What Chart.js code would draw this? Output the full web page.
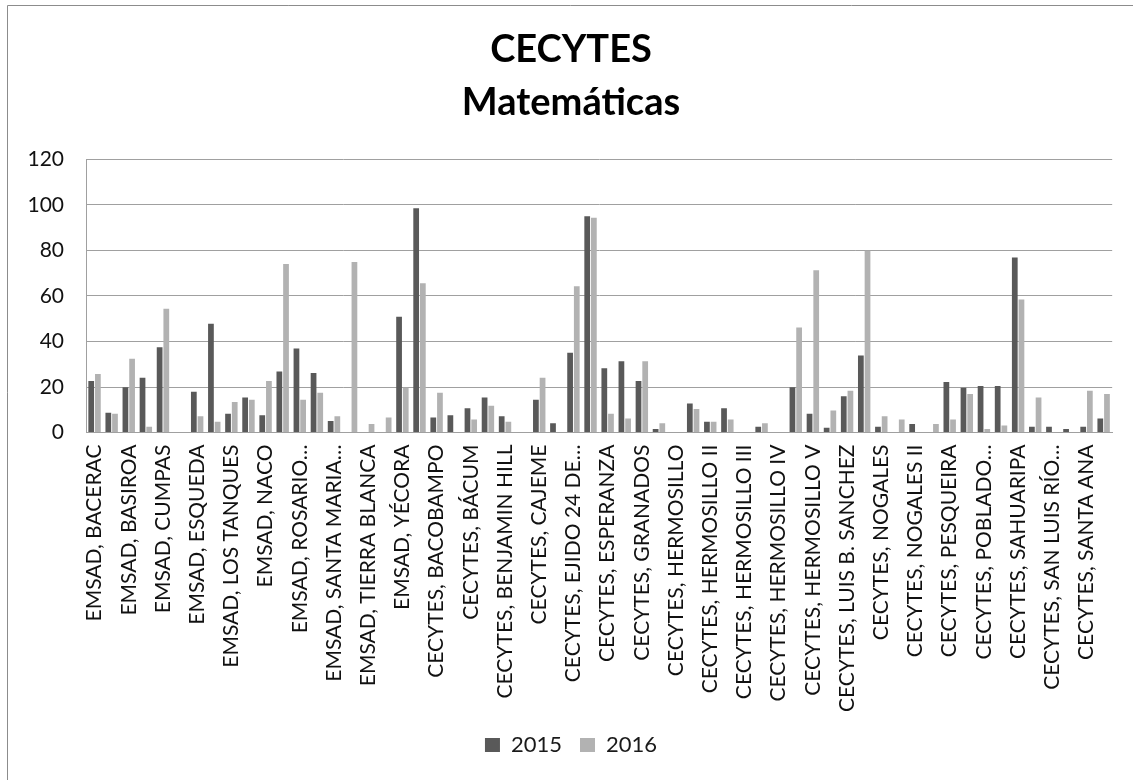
<!DOCTYPE html>
<html>
<head>
<meta charset="utf-8">
<script src="https://cdn.jsdelivr.net/npm/chart.js@4/dist/chart.umd.min.js"></script>
<style>
  body { margin: 0; background: #fff; }
  #wrap { width: 1133px; height: 780px; position: relative; }
</style>
</head>
<body>
<div id="wrap"><canvas id="myChart" width="1133" height="780"></canvas></div>
<script>
// school names (every other one is shown on the axis, like the Excel original)
let categories = [
  'EMSAD, BACERAC', 'EMSAD, BANÁMICHI',
  'EMSAD, BASIROA', 'EMSAD, CUCURPE',
  'EMSAD, CUMPAS', 'EMSAD, DIVISADEROS',
  'EMSAD, ESQUEDA', 'EMSAD, HUACHINERA',
  'EMSAD, LOS TANQUES', 'EMSAD, MAZATÁN',
  'EMSAD, NACO', 'EMSAD, ONAVAS',
  'EMSAD, ROSARIO…', 'EMSAD, SAN PEDRO…',
  'EMSAD, SANTA MARIA…', 'EMSAD, TEPACHE',
  'EMSAD, TIERRA BLANCA', 'EMSAD, VILLA HIDALGO',
  'EMSAD, YÉCORA', 'CECYTES, ÁLAMOS',
  'CECYTES, BACOBAMPO', 'CECYTES, BACOACHI',
  'CECYTES, BÁCUM', 'CECYTES, BAHÍA DE KINO',
  'CECYTES, BENJAMIN HILL', 'CECYTES, CABORCA',
  'CECYTES, CAJEME', 'CECYTES, CUMURIPA',
  'CECYTES, EJIDO 24 DE…', 'CECYTES, EMPALME',
  'CECYTES, ESPERANZA', 'CECYTES, FUNDICIÓN',
  'CECYTES, GRANADOS', 'CECYTES, GUAYMAS',
  'CECYTES, HERMOSILLO', 'CECYTES, HERMOSILLO I',
  'CECYTES, HERMOSILLO II', 'CECYTES, HERMOSILLO II-B',
  'CECYTES, HERMOSILLO III', 'CECYTES, HERMOSILLO III-B',
  'CECYTES, HERMOSILLO IV', 'CECYTES, HERMOSILLO IV-B',
  'CECYTES, HERMOSILLO V', 'CECYTES, HUATABAMPO',
  'CECYTES, LUIS B. SANCHEZ', 'CECYTES, MAGDALENA',
  'CECYTES, NOGALES', 'CECYTES, NAVOJOA',
  'CECYTES, NOGALES II', 'CECYTES, PÓTAM',
  'CECYTES, PESQUEIRA', 'CECYTES, PITIQUITO',
  'CECYTES, POBLADO…', 'CECYTES, PUERTO PEÑASCO',
  'CECYTES, SAHUARIPA', 'CECYTES, SAN IGNACIO…',
  'CECYTES, SAN LUIS RÍO…', 'CECYTES, SAN PEDRO…',
  'CECYTES, SANTA ANA', 'CECYTES, SONOYTA'
];

let y2015 = [
  22.6, 8.7, 19.9, 24.1, 37.5, 0, 17.9, 47.8, 8.2, 15.4,
  7.6, 26.8, 36.9, 26.2, 5.1, 0, 0, 0, 50.9, 98.5,
  6.6, 7.6, 10.7, 15.4, 7.2, 0, 14.4, 4.1, 35.0, 95.0,
  28.2, 31.3, 22.6, 1.5, 0, 12.8, 4.7, 10.7, 0, 2.5,
  0, 19.9, 8.2, 2.1, 15.9, 33.8, 2.5, 0, 3.7, 0,
  22.2, 19.7, 20.4, 20.4, 76.9, 2.5, 2.5, 1.5, 2.5, 6.2
];

let y2016 = [
  25.7, 8.2, 32.4, 2.5, 54.4, 0, 7.2, 4.7, 13.4, 14.4,
  22.6, 74.0, 14.4, 17.5, 7.2, 74.9, 3.7, 6.6, 19.7, 65.6,
  17.5, 0, 5.7, 11.8, 4.7, 0, 24.1, 0, 64.3, 94.4,
  8.2, 6.2, 31.3, 4.1, 0, 10.3, 4.7, 5.7, 0, 4.1,
  0, 46.2, 71.3, 9.7, 18.4, 79.9, 7.2, 5.7, 0, 3.7,
  5.7, 16.9, 1.5, 3.1, 58.4, 15.4, 0, 0, 18.4, 16.9
];

let titleLines = ['CECYTES', 'Matemáticas'];

// thin frame round the whole chart (left and top edges show in the picture)
const frame = {
  id: 'frame',
  afterDraw(chart) {
    const c = chart.ctx;
    c.save();
    c.strokeStyle = '#8c8c8c';
    c.lineWidth = 1;
    c.beginPath();
    c.moveTo(7.5, 780);
    c.lineTo(7.5, 5.5);
    c.lineTo(1133, 5.5);
    c.stroke();
    c.restore();
  }
};

var ctx = document.getElementById('myChart').getContext('2d');
var myChart = new Chart(ctx, {
  type: 'bar',
  data: {
    labels: categories,
    datasets: [{
      label: '2015',
      data: y2015,
      backgroundColor: '#595959'
    }, {
      label: '2016',
      data: y2016,
      backgroundColor: '#b2b2b2'
    }]
  },
  options: {
    responsive: false,
    animation: false,
    categoryPercentage: 0.78,
    barPercentage: 0.86,
    layout: { padding: { left: 29, right: 20, top: 0, bottom: 14 } },
    plugins: {
      title: {
        display: true,
        text: titleLines,
        color: '#000',
        font: { family: 'Lato', size: 38, weight: 'bold', lineHeight: 1.4 },
        padding: { top: 23, bottom: 30 }
      },
      legend: {
        position: 'bottom',
        labels: {
          color: '#1a1a1a',
          font: { family: 'Lato', size: 22 },
          boxWidth: 15,
          boxHeight: 14,
          padding: 18
        }
      },
      tooltip: { enabled: false }
    },
    scales: {
      x: {
        grid: { display: false },
        border: { color: '#a0a0a0' },
        ticks: {
          autoSkip: false,
          maxRotation: 90,
          minRotation: 90,
          color: '#111',
          font: { family: 'Lato', size: 21 },
          padding: 4,
          callback: function (v, i) { return i % 2 === 0 ? this.getLabelForValue(v) : ''; }
        }
      },
      y: {
        min: 0,
        max: 120,
        afterFit: function (scale) { scale.width = 57; },
        ticks: {
          stepSize: 20,
          color: '#111',
          font: { family: 'Lato', size: 21 },
          padding: 22
        },
        grid: { color: '#a0a0a0', drawTicks: false },
        border: { color: '#a0a0a0' }
      }
    }
  },
  plugins: [frame]
});
</script>
</body>
</html>
